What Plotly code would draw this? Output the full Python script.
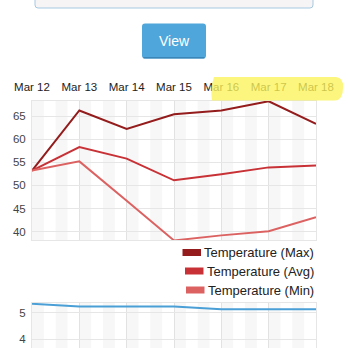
import plotly.graph_objects as go

# ---- data ----
dates = ["Mar 12", "Mar 13", "Mar 14", "Mar 15", "Mar 16", "Mar 17", "Mar 18"]
temp_max = [53.2, 66.2, 62.2, 65.4, 66.2, 68.2, 63.3]
temp_avg = [53.2, 58.3, 55.8, 51.1, 52.4, 53.9, 54.3]
temp_min = [53.2, 55.2, 46.7, 38.1, 39.2, 40.1, 43.1]
lower_series = [5.34, 5.24, 5.24, 5.24, 5.13, 5.13, 5.13]
series_names = ["Temperature (Max)", "Temperature (Avg)", "Temperature (Min)"]
series_colors = ["#941c1c", "#c83236", "#dc6262"]

W = H = 348


def px(x):
    return x / W


def py(y):
    return 1 - y / H


fig = go.Figure()

for vals, name, col in zip([temp_max, temp_avg, temp_min], series_names, series_colors):
    fig.add_trace(go.Scatter(x=dates, y=vals, mode="lines", name=name,
                             line=dict(color=col, width=2), showlegend=False,
                             xaxis="x", yaxis="y"))

fig.add_trace(go.Scatter(x=dates, y=lower_series, mode="lines",
                         line=dict(color="#4a9fd6", width=2), showlegend=False,
                         xaxis="x2", yaxis="y2"))

shapes = []
# alternating light stripes (quarter-day bands)
for ax_x, ax_y in [("x", "y domain"), ("x2", "y2 domain")]:
    for i in range(12):
        x0 = i * 0.5
        shapes.append(dict(type="rect", xref=ax_x, yref=ax_y, x0=x0, x1=x0 + 0.25,
                           y0=0, y1=1, fillcolor="#f7f7f7", line=dict(width=0),
                           layer="below"))

# input box at top
shapes.append(dict(type="path", xref="paper", yref="paper",
                   path=f"M{px(35)},{py(-5)} L{px(35)},{py(5)} Q{px(35)},{py(8)} {px(38)},{py(8)} "
                        f"L{px(310)},{py(8)} Q{px(313)},{py(8)} {px(313)},{py(5)} L{px(313)},{py(-5)} Z",
                   fillcolor="#f6f4f4", line=dict(color="#a6c9e0", width=1)))
# button
shapes.append(dict(type="path", xref="paper", yref="paper",
                   path=f"M{px(145)},{py(23.5)} L{px(203)},{py(23.5)} Q{px(206)},{py(23.5)} {px(206)},{py(26.5)} "
                        f"L{px(206)},{py(55.5)} Q{px(206)},{py(58.5)} {px(203)},{py(58.5)} L{px(145)},{py(58.5)} "
                        f"Q{px(142)},{py(58.5)} {px(142)},{py(55.5)} L{px(142)},{py(26.5)} Q{px(142)},{py(23.5)} {px(145)},{py(23.5)} Z",
                   fillcolor="#4fa6da", line=dict(width=0)))
shapes.append(dict(type="line", xref="paper", yref="paper", x0=px(143.5), x1=px(204.5),
                   y0=py(57.8), y1=py(57.8), line=dict(color="#3a86b8", width=1.5)))

# legend boxes
box_pos = [(182.5, 249), (185, 267.5), (186, 286.5)]
for (bx, by), col in zip(box_pos, series_colors):
    shapes.append(dict(type="rect", xref="paper", yref="paper", x0=px(bx), x1=px(bx + 18.5),
                       y0=py(by), y1=py(by + 7), fillcolor=col, line=dict(width=0)))

# highlighter over the later dates
shapes.append(dict(type="path", xref="paper", yref="paper",
                   path=f"M{px(214)},{py(77)} L{px(336)},{py(77)} Q{px(344)},{py(78)} {px(343)},{py(88)} "
                        f"Q{px(343)},{py(100)} {px(335)},{py(100.5)} L{px(212)},{py(100.5)} Q{px(210)},{py(88)} {px(214)},{py(77)} Z",
                   fillcolor="#fbf45a", opacity=0.78, line=dict(width=0), layer="above"))

annotations = [dict(text="View", x=px(174), y=py(40.5), xref="paper", yref="paper",
                    showarrow=False, font=dict(color="white", size=14, family="Liberation Sans"),
                    xanchor="center", yanchor="middle")]
for (bx, by), name in zip(box_pos, series_names):
    annotations.append(dict(text=name, x=px(315.5), y=py(by + 3.5), xref="paper", yref="paper",
                            showarrow=False, xanchor="right", yanchor="middle",
                            font=dict(color="#222222", size=13, family="Liberation Sans")))

grid = "#e6e6e6"
common = dict(automargin=False, zeroline=False, showline=True, linecolor=grid, mirror=True, ticks="")
fig.update_layout(
    template="none",
    width=W, height=H, autosize=False,
    margin=dict(l=0, r=0, t=0, b=0, pad=0),
    paper_bgcolor="white", plot_bgcolor="white",
    font=dict(family="Liberation Sans", color="#333333"),
    shapes=shapes, annotations=annotations,
    xaxis=dict(domain=[px(32), px(316)], range=[0, 6], side="top", type="category",
               showgrid=True, gridcolor="#e2e2e2", ticklabelstandoff=4,
               tickfont=dict(size=11.5, color="#222222"), anchor="y", **common),
    yaxis=dict(domain=[py(240), py(101)], range=[38.2, 68.25], tick0=0, dtick=5,
               showgrid=True, gridcolor=grid, ticklabelstandoff=3,
               tickfont=dict(size=11.5, color="#444444"), anchor="x", **common),
    xaxis2=dict(domain=[px(32), px(316)], range=[0, 6], type="category", matches="x",
                showgrid=True, gridcolor="#e2e2e2", showticklabels=False, anchor="y2", **common),
    yaxis2=dict(domain=[0, py(303)], range=[3.66, 5.37], tick0=0, dtick=1,
                showgrid=True, gridcolor=grid, ticklabelstandoff=3,
                tickfont=dict(size=11.5, color="#444444"), anchor="x2", **common),
)

fig.write_html("out.html")
